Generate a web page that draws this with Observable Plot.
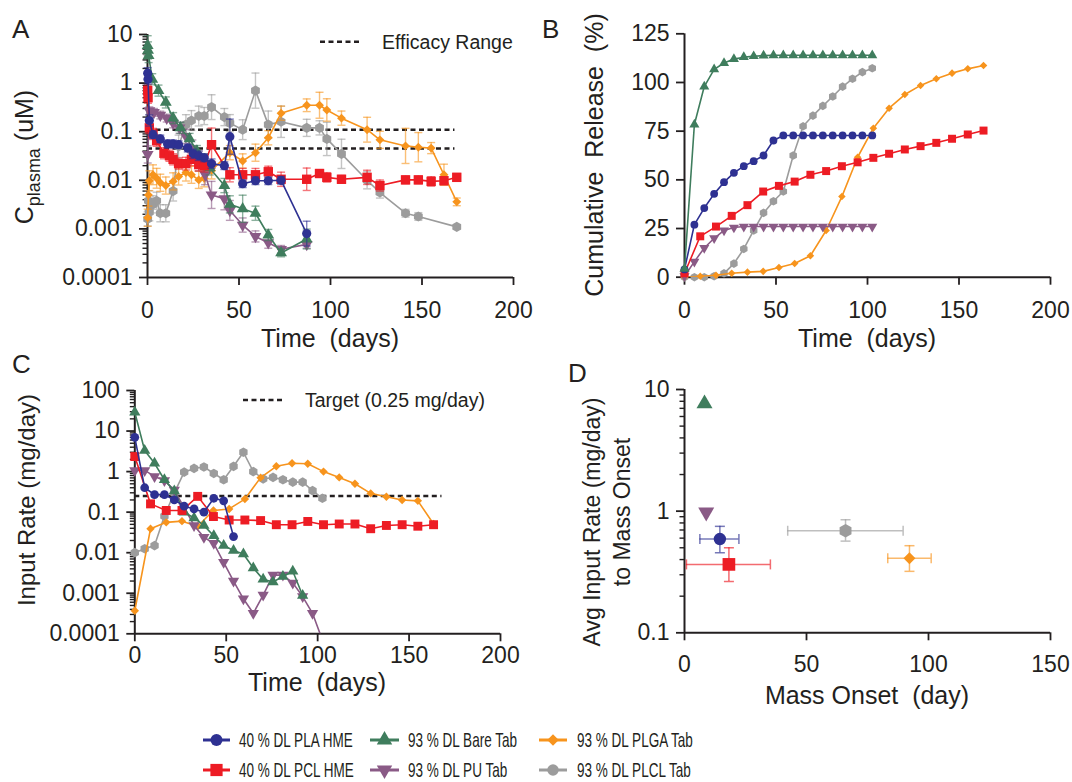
<!DOCTYPE html>
<html><head><meta charset="utf-8">
<script src="https://cdn.jsdelivr.net/npm/d3@7"></script>
<script src="https://cdn.jsdelivr.net/npm/@observablehq/plot@0.6"></script>
<style>
body{margin:0;background:#fff;}
#wrap{position:relative;width:1072px;height:782px;overflow:hidden;background:#fff;font-family:"Liberation Sans",Arial,sans-serif;}
.panel{position:absolute;}
</style></head><body>
<div id="wrap">
<div class="panel" id="pA" style="left:0;top:0"></div>
<div class="panel" id="pB" style="left:540px;top:0"></div>
<div class="panel" id="pC" style="left:0;top:360px"></div>
<div class="panel" id="pD" style="left:540px;top:360px"></div>
<div class="panel" id="leg" style="left:0;top:718px"></div>
</div>
<script>
// ---------------- DATA ----------------
const seriesKeys = ["blue","red","green","purple","orange","gray"];
const seriesNames = ["40 % DL PLA HME","40 % DL PCL HME","93 % DL Bare Tab","93 % DL PU Tab","93 % DL PLGA Tab","93 % DL PLCL Tab"];

// Panel A: plasma concentration (uM) vs time (days); fac = multiplicative error
const A_blue_days = [0.1,0.3,1,3,7,11,14,17,22,25,28,31,35,42,45,52,59,66,73,87];
const A_blue = [1.6,1.2,0.17,0.087,0.071,0.056,0.056,0.054,0.046,0.035,0.032,0.029,0.022,0.02,0.079,0.0085,0.0098,0.0098,0.01,0.0008];
const A_blue_fac = [1.3,1.25,1.3,1.2,1.2,1.2,1.2,1.2,1.2,1.25,1.25,1.2,1.25,1.2,2.3,1.2,1.2,1.2,1.2,1.8];

const A_red_days = [0.1,0.3,1,3,5,9,12,14,17,21,24,28,31,35,45,52,59,66,73,87,94,98,106,120,127,141,148,155,162,169];
const A_red = [0.7,0.5,0.12,0.09,0.065,0.036,0.032,0.027,0.022,0.022,0.027,0.021,0.02,0.054,0.013,0.013,0.013,0.015,0.0105,0.0105,0.0138,0.0115,0.0105,0.0115,0.0078,0.0102,0.0102,0.0095,0.0098,0.0115];
const A_red_fac = [1.3,1.3,1.3,1.3,1.3,1.3,1.3,1.3,1.3,1.35,1.35,1.35,1.35,2.2,1.4,1.35,1.35,1.3,1.4,1.7,1.2,1.25,1.2,1.4,1.3,1.2,1.2,1.25,1.2,1.2];

const A_green_days = [0.1,0.3,0.6,2.6,6,10,14,18,23,27,31,34,42,45,52,59,66,73,87];
const A_green = [5.9,4.7,3.7,1.2,0.7,0.4,0.19,0.12,0.071,0.04,0.025,0.018,0.0078,0.0032,0.0026,0.0021,0.00075,0.00032,0.00062];
const A_green_fac = [1.6,1.5,1.4,1.3,1.3,1.3,1.3,1.3,1.3,1.3,1.4,1.4,1.4,1.5,1.9,1.4,1.3,1.2,1.6];

const A_purple_days = [0.1,1,3.5,7,10.5,14,17.5,21,24.5,28,31.5,35,42,45,52,59,66,73,87];
const A_purple = [0.034,0.27,0.25,0.22,0.19,0.15,0.12,0.08,0.045,0.025,0.013,0.005,0.0042,0.0024,0.0012,0.0007,0.00052,0.00038,0.00048];
const A_purple_fac = [1.5,1.2,1.2,1.2,1.2,1.25,1.3,1.4,1.5,1.6,1.6,1.9,1.7,1.6,1.4,1.3,1.3,1.2,1.2];

const A_orange_days = [0.1,0.5,1,3,5,7,10,14,17,21,24,28,31,35,45,52,59,66,73,87,94,98,106,120,127,141,148,155,162,169];
const A_orange = [0.0017,0.005,0.0098,0.013,0.011,0.0089,0.0078,0.0095,0.012,0.0145,0.013,0.0102,0.011,0.016,0.037,0.025,0.037,0.075,0.24,0.35,0.35,0.28,0.19,0.11,0.068,0.051,0.048,0.046,0.013,0.0036];
const A_orange_fac = [1.5,1.7,1.6,1.6,1.6,1.5,1.5,1.5,1.5,1.5,1.5,1.5,1.5,1.5,1.4,1.4,1.5,1.4,1.4,1.35,1.85,1.7,1.4,1.8,1.5,2.3,2.0,1.3,1.65,1.2];

const A_gray_days = [0.1,0.5,1,3,5,7,10,14,17,21,24,28,31,35,42,45,52,59,66,73,87,94,98,106,120,127,141,148,169];
const A_gray = [0.0016,0.0038,0.0022,0.0032,0.0038,0.0021,0.0021,0.006,0.05,0.14,0.17,0.21,0.21,0.32,0.2,0.15,0.11,0.7,0.14,0.16,0.12,0.12,0.071,0.035,0.01,0.0056,0.0021,0.0018,0.0011];
const A_gray_fac = [1.4,1.6,1.5,1.5,1.5,1.5,1.5,1.6,1.7,1.6,1.6,1.6,1.5,1.8,1.5,1.5,1.6,2.3,1.9,2.1,1.5,1.4,2.2,2.0,1.5,1.3,1.2,1.2,1.1];

const efficacyRange = [0.11, 0.045];
const efficacyEndDay = 168;

// Panel B: cumulative release (%)
const B_days_fast = [0,5.4,10.8,16.2,21.6,27,32.4,37.8,43.2,48.6,54,59.4,64.8,70.2,75.6,81,86.4,91.8,97.2,102.6];
const B_days_slow = [0,8.6,17.2,25.8,34.4,43,51.6,60.2,68.8,77.4,86,94.6,103.2,111.8,120.4,129,137.6,146.2,154.8,163.4];
const B_blue = [4,27,35.5,42.8,48.8,53.6,57,59.6,62.5,70.2,72.8,72.8,72.8,72.8,72.8,72.8,72.8,72.8,72.8,72.8];
const B_green = [4.3,78.4,97.9,106.7,110,112,113,113.5,113.8,114,114,114,114,114,114,114,114,114,114,114];
const B_purple = [0.5,8,15,20,24,25.5,26,26,26,26,26,26,26,26,26,26,26,26,26,26];
const B_gray = [0,0,0,0.5,2,7,14.5,24,33,39,44,62.5,77.5,83,88,92.8,97.9,101.9,105.3,107.3];
const B_red = [2,21,26,31.5,37,44,46.9,49.1,52.6,54.5,57,59,61.3,63.4,65.6,67.3,69,71.1,73.3,75.3];
const B_orange = [0,0.5,1,2,2.6,3,5,7,11,24,41.4,61.6,76.5,86.8,93.8,98.5,101.9,104.8,107,108.7];

// Panel C: input rate (mg/day)
const C_days_fast = [0,5.4,10.8,16.2,21.6,27,32.4,37.8,43.2,48.6,54,59.4,64.8,70.2,75.6,81,86.4,91.8,97.2,102.6];
const C_days_slow = [0,8.6,17.2,25.8,34.4,43,51.6,60.2,68.8,77.4,86,94.6,103.2,111.8,120.4,129,137.6,146.2,154.8,163.4];
const C_blue = [7,0.4,0.27,0.27,0.2,0.14,0.12,0.1,0.22,0.19,0.025];
const C_green = [29,3.3,1.6,0.63,0.33,0.1,0.072,0.047,0.026,0.015,0.0113,0.0093,0.0042,0.0022,0.0019,0.0026,0.0035,0.00088];
const C_purple = [1.07,1.07,0.76,0.6,0.35,0.13,0.047,0.024,0.017,0.0058,0.002,0.00073,0.00032,0.0009,0.0028,0.0028,0.0018,0.00083,0.00032,0.00007];
const C_gray = [0.01,0.0125,0.015,0.08,0.3,0.97,1.2,1.3,0.9,0.63,1.35,3.0,1.0,0.66,0.72,0.63,0.55,0.55,0.34,0.22];
const C_red = [2.35,0.16,0.11,0.11,0.245,0.078,0.064,0.064,0.062,0.049,0.049,0.059,0.049,0.051,0.051,0.039,0.047,0.049,0.045,0.049];
const C_orange = [0.00037,0.039,0.056,0.06,0.045,0.11,0.12,0.21,0.71,1.35,1.6,1.56,1.0,0.72,0.5,0.29,0.24,0.2,0.19,0.051];
const targetRate = [0.25];
const targetEndDay = 168;

// Panel D: avg input rate to mass onset vs mass onset
const D_keys = ["gray","orange","red","blue","purple","green"];
const D_onset = [66, 92.2, 18.2, 14.5, 8.9, 8.2];
const D_onsetLo = [42.3, 83.3, 0.8, 6.3, null, null];
const D_onsetHi = [89.6, 101.1, 35.2, 22.3, null, null];
const D_rate = [0.69, 0.41, 0.365, 0.59, 0.98, 7.64];
const D_rateLo = [0.567, 0.32, 0.264, 0.455, null, null];
const D_rateHi = [0.85, 0.52, 0.5, 0.75, null, null];

// Ticks
const timeTicks = [0,50,100,150,200];
const onsetTicks = [0,50,100,150];
const releaseTicks = [0,25,50,75,100,125];
const A_majors = [0.0001,0.001,0.01,0.1,1,10];
const C_majors = [0.0001,0.001,0.01,0.1,1,10,100];
const D_majors = [0.1,1,10];

// ---------------- STYLE ----------------
const INK = "#231f20";
const triDown = {draw(ctx, size){ const y = -Math.sqrt(size/(Math.sqrt(3)*3)); const s3 = Math.sqrt(3); ctx.moveTo(0, -2*y); ctx.lineTo(-s3*y, y); ctx.lineTo(s3*y, y); ctx.closePath(); }};
const capH = {draw(ctx, size){ const w = Math.sqrt(size/Math.PI); ctx.moveTo(-w,0); ctx.lineTo(w,0); }};
const capV = {draw(ctx, size){ const w = Math.sqrt(size/Math.PI); ctx.moveTo(0,-w); ctx.lineTo(0,w); }};
const STY = {
  blue:   {color:"#2e3192", symbol:"circle",   r:4.6},
  red:    {color:"#ed1c24", symbol:"square",   r:5.3},
  green:  {color:"#3f7d5d", symbol:"triangle", r:4.4},
  purple: {color:"#8a5a86", symbol:triDown,    r:4.4},
  orange: {color:"#f7941d", symbol:"diamond2", r:4.0},
  gray:   {color:"#9c9c9c", symbol:"hexagon",  r:4.4}
};
const FONT = "Liberation Sans, Arial, Helvetica, sans-serif";

function mk(days, vals, fac){ return vals.map((v,i)=>({x:days[i], y:v, lo: fac ? v/fac[i] : null, hi: fac ? v*fac[i] : null})); }
function minorLog(k0,k1){ const a=[]; for(let k=k0;k<=k1;k++) for(let m=2;m<=9;m++) a.push(+(m*Math.pow(10,k)).toPrecision(3)); return a; }

function seriesMarks(data, key, scale, ymin, withErr){
  const st = STY[key]; const m = [];
  if (withErr){
    m.push(Plot.ruleX(data, {x:"x", y1:"lo", y2:"hi", stroke:st.color, strokeOpacity:0.6, strokeWidth:1.4, clip:true}));
    m.push(Plot.dot(data.filter(d=>d.hi<=10), {x:"x", y:"hi", symbol:capH, r:4, stroke:st.color, strokeOpacity:0.6, strokeWidth:1.4, fill:"none"}));
    m.push(Plot.dot(data.filter(d=>d.lo>=ymin), {x:"x", y:"lo", symbol:capH, r:4, stroke:st.color, strokeOpacity:0.6, strokeWidth:1.4, fill:"none"}));
  }
  m.push(Plot.line(data, {x:"x", y:"y", stroke:st.color, strokeWidth:1.6, clip:true}));
  m.push(Plot.dot(data.filter(d=>ymin==null || d.y>=ymin), {x:"x", y:"y", symbol:st.symbol, r:st.r*scale, fill:st.color, stroke:"none"}));
  return m;
}

function axes(opts){
  const m = [
    Plot.axisX({ticks:opts.xt, tickSize:8, tickPadding:opts.xpad, tickFormat:d=>String(d), label:null, strokeWidth:1.8}),
    Plot.axisY({ticks:opts.yt, tickSize:8, tickPadding:7, tickFormat:d=>String(d), label:null, strokeWidth:1.8})
  ];
  if (opts.ym) m.push(Plot.axisY({ticks:opts.ym, tickSize:4.5, tickFormat:()=>"", label:null, strokeWidth:1.4}));
  m.push(Plot.ruleX([opts.x0], {stroke:INK, strokeWidth:2}));
  m.push(Plot.ruleY([opts.y0], {stroke:INK, strokeWidth:2}));
  return m;
}

function addText(svg, x, y, txt, o={}){
  const t = d3.select(svg).append("text").attr("x",x).attr("y",y).attr("fill",INK)
    .attr("font-family",FONT).attr("font-size",o.size||25).attr("text-anchor",o.anchor||"middle")
    .style("white-space","pre").text(txt);
  if (o.rotate) t.attr("x",null).attr("y",null).attr("transform",`translate(${x},${y}) rotate(-90)`);
  return t;
}
function dashSample(svg, x1, x2, y){
  d3.select(svg).append("line").attr("x1",x1).attr("x2",x2).attr("y1",y).attr("y2",y)
    .attr("stroke",INK).attr("stroke-width",2.6).attr("stroke-dasharray","5,3.5");
}
const baseStyle = {fontFamily:FONT, fontSize:"23px", color:INK, background:"transparent", overflow:"visible"};

// ---------------- PANEL A ----------------
{
  const A = {blue:mk(A_blue_days,A_blue,A_blue_fac), red:mk(A_red_days,A_red,A_red_fac), green:mk(A_green_days,A_green,A_green_fac),
             purple:mk(A_purple_days,A_purple,A_purple_fac), orange:mk(A_orange_days,A_orange,A_orange_fac), gray:mk(A_gray_days,A_gray,A_gray_fac)};
  const order = ["gray","orange","purple","green","red","blue"];
  const svg = Plot.plot({
    width:540, height:360, marginLeft:147, marginRight:27, marginTop:34, marginBottom:83,
    style: baseStyle,
    x:{domain:[0,200]}, y:{type:"log", domain:[0.0001,10]},
    marks:[
      ...axes({xt:timeTicks, yt:A_majors, ym:minorLog(-4,0), xpad:16, x0:0, y0:0.0001}),
      Plot.ruleY(efficacyRange, {x1:0, x2:efficacyEndDay, stroke:INK, strokeWidth:2.6, strokeDasharray:"5,3.5"}),
      ...order.flatMap(k=>seriesMarks(A[k], k, 1, 0.0001, true))
    ]
  });
  document.getElementById("pA").appendChild(svg);
  addText(svg, 12, 38, "A", {anchor:"start", size:26});
  addText(svg, 330, 347, "Time  (days)");
  const t = d3.select(svg).append("text").attr("transform","translate(33,157) rotate(-90)").attr("text-anchor","middle")
    .attr("font-family",FONT).attr("font-size",25).attr("fill",INK);
  t.append("tspan").text("C");
  t.append("tspan").attr("font-size",18).attr("dy",7).text("plasma");
  t.append("tspan").attr("dy",-7).style("white-space","pre").text(" (uM)");
  dashSample(svg, 320, 360, 41.7);
  addText(svg, 382, 49, "Efficacy Range", {anchor:"start", size:19.5});
}

// ---------------- PANEL B ----------------
{
  const B = {blue:mk(B_days_fast,B_blue), green:mk(B_days_fast,B_green), purple:mk(B_days_fast,B_purple),
             gray:mk(B_days_fast,B_gray), red:mk(B_days_slow,B_red), orange:mk(B_days_slow,B_orange)};
  const order = ["gray","orange","purple","red","blue","green"];
  const svg = Plot.plot({
    width:532, height:360, marginLeft:144, marginRight:22, marginTop:33.3, marginBottom:83.3,
    style: baseStyle,
    x:{domain:[0,200]}, y:{domain:[0,125]},
    marks:[
      ...axes({xt:timeTicks, yt:releaseTicks, xpad:16, x0:0, y0:0}),
      ...order.flatMap(k=>seriesMarks(B[k], k, 0.85, null, false))
    ]
  });
  document.getElementById("pB").appendChild(svg);
  addText(svg, 2, 38, "B", {anchor:"start", size:26});
  addText(svg, 327, 347, "Time  (days)");
  addText(svg, 63, 155, "Cumulative  Release  (%)", {rotate:true, size:25});
}

// ---------------- PANEL C ----------------
{
  const C = {blue:mk(C_days_fast,C_blue), green:mk(C_days_fast,C_green), purple:mk(C_days_fast,C_purple),
             gray:mk(C_days_fast,C_gray), red:mk(C_days_slow,C_red), orange:mk(C_days_slow,C_orange)};
  const order = ["gray","orange","purple","green","red","blue"];
  const svg = Plot.plot({
    width:540, height:360, marginLeft:134.3, marginRight:40, marginTop:30, marginBottom:86.7,
    style: baseStyle,
    x:{domain:[0,200]}, y:{type:"log", domain:[0.0001,100]},
    marks:[
      ...axes({xt:timeTicks, yt:C_majors, ym:minorLog(-4,1), xpad:5, x0:0, y0:0.0001}),
      Plot.ruleY(targetRate, {x1:0, x2:targetEndDay, stroke:INK, strokeWidth:2.6, strokeDasharray:"5,3.5"}),
      ...order.flatMap(k=>seriesMarks(C[k], k, 0.95, 0.0001, false))
    ]
  });
  document.getElementById("pC").appendChild(svg);
  addText(svg, 12, 13, "C", {anchor:"start", size:26});
  addText(svg, 317, 331, "Time  (days)");
  addText(svg, 35, 140, "Input Rate (mg/day)", {rotate:true, size:24});
  dashSample(svg, 243, 282, 40);
  addText(svg, 305, 47, "Target (0.25 mg/day)", {anchor:"start", size:19.5});
}

// ---------------- PANEL D ----------------
{
  const rows = D_keys.map((k,i)=>({k, x:D_onset[i], y:D_rate[i], xlo:D_onsetLo[i], xhi:D_onsetHi[i], ylo:D_rateLo[i], yhi:D_rateHi[i]}));
  const err = rows.filter(d=>d.xlo!=null);
  const marks = [...axes({xt:onsetTicks, yt:D_majors, ym:minorLog(-1,0), xpad:15, x0:0, y0:0.1})];
  for (const d of err){
    const c = STY[d.k].color;
    marks.push(Plot.ruleY([d], {y:"y", x1:"xlo", x2:"xhi", stroke:c, strokeOpacity:0.65, strokeWidth:1.5}));
    marks.push(Plot.ruleX([d], {x:"x", y1:"ylo", y2:"yhi", stroke:c, strokeOpacity:0.65, strokeWidth:1.5}));
    marks.push(Plot.dot([d], {x:"xlo", y:"y", symbol:capV, r:5, stroke:c, strokeOpacity:0.65, strokeWidth:1.5, fill:"none"}));
    marks.push(Plot.dot([d], {x:"xhi", y:"y", symbol:capV, r:5, stroke:c, strokeOpacity:0.65, strokeWidth:1.5, fill:"none"}));
    marks.push(Plot.dot([d], {x:"x", y:"ylo", symbol:capH, r:5, stroke:c, strokeOpacity:0.65, strokeWidth:1.5, fill:"none"}));
    marks.push(Plot.dot([d], {x:"x", y:"yhi", symbol:capH, r:5, stroke:c, strokeOpacity:0.65, strokeWidth:1.5, fill:"none"}));
  }
  for (const d of rows){
    const st = STY[d.k];
    marks.push(Plot.dot([d], {x:"x", y:"y", symbol:st.symbol, r:st.r*1.35, fill:st.color, stroke:"none"}));
  }
  const svg = Plot.plot({
    width:532, height:360, marginLeft:144, marginRight:22, marginTop:29, marginBottom:87.7,
    style: baseStyle,
    x:{domain:[0,150]}, y:{type:"log", domain:[0.1,10]},
    marks
  });
  document.getElementById("pD").appendChild(svg);
  addText(svg, 28, 22, "D", {anchor:"start", size:26});
  addText(svg, 327, 344, "Mass Onset  (day)");
  addText(svg, 60, 162, "Avg Input Rate (mg/day)", {rotate:true, size:23});
  addText(svg, 90, 152, "to Mass Onset", {rotate:true, size:23});
}

// ---------------- LEGEND ----------------
{
  const svg = d3.select("#leg").append("svg").attr("width",1072).attr("height",64).style("overflow","visible");
  const layout = [["blue",0,0],["green",1,0],["orange",2,0],["red",0,1],["purple",1,1],["gray",2,1]];
  const lx1 = [203,370,539], lx2 = [230,399,567], tx = [239,408,577], ry = [22,52];
  const symMap = {circle:d3.symbolCircle, square:d3.symbolSquare, triangle:d3.symbolTriangle, diamond2:d3.symbolDiamond2 || d3.symbolSquare, hexagon:d3.symbolCircle};
  for (const [k,c,r] of layout){
    const st = STY[k], y = ry[r];
    svg.append("line").attr("x1",lx1[c]).attr("x2",lx2[c]).attr("y1",y).attr("y2",y).attr("stroke",st.color).attr("stroke-width",3);
    const type = typeof st.symbol === "string" ? symMap[st.symbol] : st.symbol;
    const rr = st.r*1.3;
    svg.append("path").attr("d", d3.symbol(type, Math.PI*rr*rr)()).attr("fill",st.color)
      .attr("transform",`translate(${(lx1[c]+lx2[c])/2},${y})`);
    svg.append("text").attr("transform",`translate(${tx[c]},${y+7}) scale(0.66,1)`).attr("font-family",FONT)
      .attr("font-size",20.5).attr("fill",INK).text(seriesNames[seriesKeys.indexOf(k)]);
  }
}
</script>
</body></html>
